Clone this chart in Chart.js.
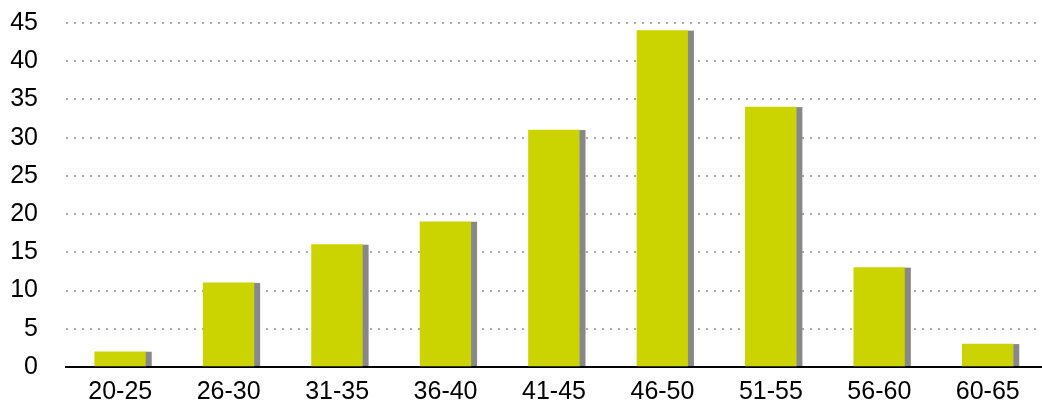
<!DOCTYPE html>
<html>
<head>
<meta charset="utf-8">
<script src="https://cdn.jsdelivr.net/npm/chart.js@4/dist/chart.umd.min.js"></script>
<style>
  html, body { margin: 0; padding: 0; background: #fff; }
  #wrap { width: 1042px; height: 405px; position: relative; }
</style>
</head>
<body>
<div id="wrap"><canvas id="c"></canvas></div>
<script>
// Age groups and respondent counts
const ageGroups = ['20-25', '26-30', '31-35', '36-40', '41-45', '46-50', '51-55', '56-60', '60-65'];
const counts = [2, 11, 16, 19, 31, 44, 34, 13, 3];
const yTicks = [0, 5, 10, 15, 20, 25, 30, 35, 40, 45];

const BAR_GREEN = '#cbd300';
const SHADOW_GREY = '#888888';

// Grey strip along the right side of each bar
const barShadow = {
  id: 'barShadow',
  afterDatasetsDraw(chart) {
    const ctx = chart.ctx;
    ctx.save();
    ctx.fillStyle = SHADOW_GREY;
    chart.getDatasetMeta(0).data.forEach(bar => {
      const p = bar.getProps(['x', 'y', 'base', 'width'], true);
      ctx.fillRect(p.x + p.width / 2, p.y, 6, p.base - p.y);
    });
    ctx.restore();
  }
};

Chart.defaults.font.family = '"Liberation Sans", Arial, Helvetica, sans-serif';
Chart.defaults.color = '#000';

new Chart(document.getElementById('c'), {
  type: 'bar',
  data: {
    labels: ageGroups,
    datasets: [{
      data: counts,
      backgroundColor: BAR_GREEN,
      borderWidth: 0,
      barThickness: 51
    }]
  },
  options: {
    responsive: true,
    maintainAspectRatio: false,
    animation: false,
    layout: { padding: { top: 23, right: 0, bottom: 0, left: 0 } },
    plugins: {
      legend: { display: false },
      tooltip: { enabled: false }
    },
    scales: {
      x: {
        afterFit(scale) { scale.height = 38; },
        grid: { display: false, drawTicks: false },
        border: { display: true, color: '#000', width: 2 },
        ticks: { font: { size: 25 }, padding: 10, color: '#000' }
      },
      y: {
        min: 0,
        max: 45,
        afterFit(scale) {
          scale.width = 66;
          // keep the plot area governed by the layout padding alone
          scale.paddingTop = 0;
          scale.paddingBottom = 0;
        },
        afterBuildTicks(scale) { scale.ticks = yTicks.map(v => ({ value: v })); },
        grid: {
          drawTicks: false,
          color: '#a8a8a8',
          lineWidth: 2
        },
        border: { display: false, dash: [2, 6] },
        ticks: { font: { size: 25 }, padding: 28, color: '#000' }
      }
    }
  },
  plugins: [barShadow]
});
</script>
</body>
</html>
